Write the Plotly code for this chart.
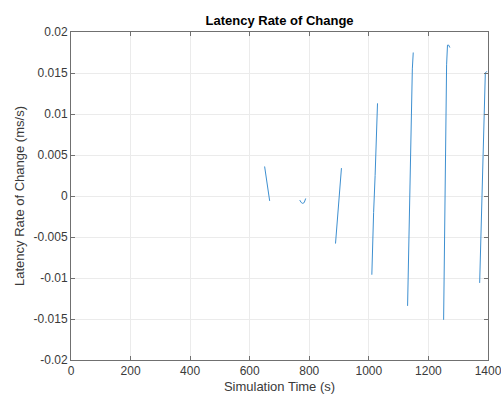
import plotly.graph_objects as go

# Segments (time in s, rate in ms/s)
seg1_x = [650, 655, 661, 667]
seg1_y = [0.0036, 0.0023, 0.0009, -0.0006]
seg2_x = [768, 773, 778, 783, 788]
seg2_y = [-0.0005, -0.0008, -0.0009, -0.0008, -0.0003]
seg3_x = [888, 892, 897, 902, 908]
seg3_y = [-0.0058, -0.0040, -0.0015, 0.0010, 0.0034]
seg4_x = [1010, 1012, 1016, 1021, 1025, 1029]
seg4_y = [-0.0096, -0.0058, -0.0020, 0.0025, 0.0070, 0.0113]
seg5_x = [1130, 1133, 1136, 1139, 1142, 1146, 1149]
seg5_y = [-0.0134, -0.0080, -0.0020, 0.0045, 0.0100, 0.0155, 0.0175]
seg6_x = [1251, 1253, 1256, 1259, 1261, 1264, 1268, 1272]
seg6_y = [-0.0151, -0.0080, 0.0000, 0.0100, 0.0160, 0.0184, 0.0184, 0.0181]
seg7_x = [1372, 1375, 1379, 1383, 1387, 1391, 1396]
seg7_y = [-0.0106, -0.0060, -0.0005, 0.0060, 0.0125, 0.0150, 0.0152]

x_ticks = [0, 200, 400, 600, 800, 1000, 1200, 1400]
y_ticks = [-0.02, -0.015, -0.01, -0.005, 0, 0.005, 0.01, 0.015, 0.02]
y_tick_text = ["-0.02", "-0.015", "-0.01", "-0.005", "0", "0.005", "0.01", "0.015", "0.02"]

segs = [(seg1_x, seg1_y), (seg2_x, seg2_y), (seg3_x, seg3_y), (seg4_x, seg4_y),
        (seg5_x, seg5_y), (seg6_x, seg6_y), (seg7_x, seg7_y)]
xs, ys = [], []
for sx, sy in segs:
    xs += sx + [None]
    ys += sy + [None]

fig = go.Figure()
fig.add_trace(go.Scatter(x=xs, y=ys, mode="lines",
                         line=dict(color="#3d8fd0", width=1), connectgaps=False,
                         showlegend=False))

font_family = "Liberation Sans, Arial, sans-serif"
axis_common = dict(showline=True, linecolor="#707070", linewidth=1, mirror="ticks",
                   ticks="inside", ticklen=4, tickcolor="#707070",
                   showgrid=True, gridcolor="#ebebeb", gridwidth=1, zeroline=False,
                   automargin=False, ticklabeloverflow="allow",
                   tickfont=dict(size=12, color="#3a3a3a", family=font_family))

fig.update_layout(
    width=501, height=399,
    margin=dict(l=71, r=13, t=32, b=39),
    paper_bgcolor="white", plot_bgcolor="white",
    title=dict(text="<b>Latency Rate of Change</b>", x=0.558, xanchor="center",
               y=0.95, yanchor="middle",
               font=dict(size=13, color="black", family=font_family)),
    xaxis=dict(range=[0, 1400], tickvals=x_ticks,
               title=dict(text="Simulation Time (s)", standoff=4,
                          font=dict(size=13, color="#3a3a3a", family=font_family)),
               **axis_common),
    yaxis=dict(range=[-0.02, 0.02], tickvals=y_ticks, ticktext=y_tick_text,
               title=dict(text="Latency Rate of Change (ms/s)", standoff=6,
                          font=dict(size=13, color="#3a3a3a", family=font_family)),
               **axis_common),
)

fig.write_html("out.html")
